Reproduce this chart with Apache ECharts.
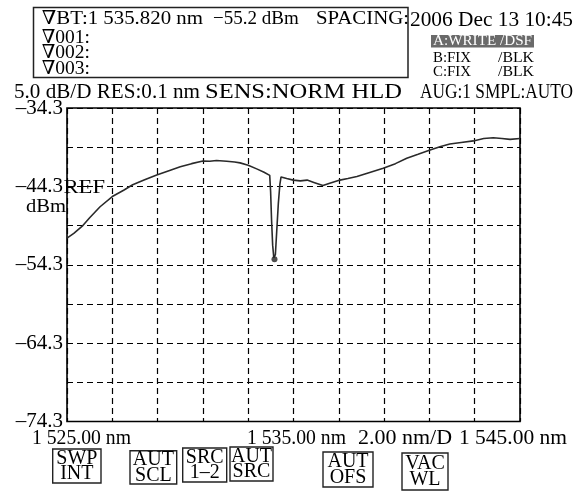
<!DOCTYPE html>
<html>
<head>
<meta charset="utf-8">
<script src="https://cdn.jsdelivr.net/npm/echarts@6/dist/echarts.min.js"></script>
<style>html,body{margin:0;padding:0;background:#fff}#c{width:582px;height:492px}</style>
</head>
<body>
<div id="c"></div>
<script>
// Wavelength (nm) and power (dBm)
const wavelengths = [1525.00,1525.30,1525.70,1526.00,1526.46,1527.00,1527.50,1527.90,1528.40,1528.96,1529.50,1530.00,1530.50,1531.00,1531.30,1531.60,1532.05,1532.40,1532.64,1533.00,1533.40,1533.70,1533.95,1533.99,1534.03,1534.08,1534.13,1534.16,1534.20,1534.26,1534.33,1534.40,1534.45,1534.70,1534.99,1535.30,1535.60,1535.90,1536.30,1536.60,1537.05,1537.40,1537.80,1538.40,1538.96,1539.50,1540.00,1540.50,1541.03,1541.50,1541.90,1542.40,1542.94,1543.40,1543.82,1544.20,1544.56,1545.00];
const powers = [-50.9,-50.3,-49.3,-48.3,-46.9,-45.6,-44.8,-44.1,-43.5,-42.85,-42.3,-41.8,-41.4,-41.06,-41.1,-41.0,-41.1,-41.2,-41.3,-41.6,-42.1,-42.5,-42.9,-45.0,-48.5,-51.8,-53.4,-53.6,-53.0,-50.0,-46.5,-44.0,-43.1,-43.3,-43.5,-43.6,-43.5,-43.8,-44.2,-43.9,-43.5,-43.3,-43.05,-42.5,-42.0,-41.4,-40.7,-40.2,-39.66,-39.2,-38.9,-38.7,-38.5,-38.2,-38.1,-38.2,-38.3,-38.2];
const yTickLabels = ["\u201374.3","\u201364.3","\u201354.3","\u201344.3","\u201334.3"];
const xTickLabels = ["1 525.00 nm","1 535.00 nm","2.00 nm/D","1 545.00 nm"];

const FONT = '"Liberation Serif","DejaVu Serif",serif';
const traceData = wavelengths.map((w,i)=>[w,powers[i]]);
let minI = 0; powers.forEach((p,i)=>{ if(p<powers[minI]) minI=i; });

const mctx = document.createElement('canvas').getContext('2d');
function measure(s,size){ mctx.font = size+'px '+FONT; return mctx.measureText(s).width; }

// text fitted horizontally between x1 and x2
function fit(x1,x2,y,s,size,fill){
  const w = measure(s,size);
  return {type:'text', x:x1, y:y, scaleX:(x2-x1)/w, z:10,
    style:{text:s, fontFamily:FONT, fontSize:size, fill:fill||'#000', align:'left', verticalAlign:'middle'}};
}
function txt(x,y,s,size,align){
  return {type:'text', x:x, y:y, z:10, style:{text:s, fontFamily:FONT, fontSize:size, fill:'#000', align:align||'left', verticalAlign:'middle'}};
}
function rect(x1,y1,x2,y2,opts){
  opts=opts||{};
  return {type:'rect', z:9, shape:{x:x1,y:y1,width:x2-x1,height:y2-y1}, style:{fill:opts.fill||'none', stroke:opts.stroke||'#222', lineWidth:opts.lw||1.5}};
}
function button(x1,y1,x2,y2,l1,l2){
  const cx=(x1+x2)/2, cy=(y1+y2)/2;
  return [rect(x1,y1,x2,y2,{lw:1.4}), txt(cx,cy-7.5,l1,20,'center'), txt(cx,cy+8,l2,20,'center')];
}

const graphics = [
  rect(33.5,7.5,408,77.5),
  fit(41.7,203,19.5,'\u2207BT:1 535.820 nm',19),
  txt(213,19.5,'\u221255.2 dBm',19),
  fit(316,409,19.5,'SPACING:',19),
  fit(41.7,90,38.5,'\u2207001:',19),
  fit(41.7,90,53.5,'\u2207002:',19),
  fit(41.7,90,69,'\u2207003:',19),
  fit(410,573,21,'2006 Dec 13 10:45',20),
  rect(431,35,534,47.5,{fill:'#6a6a6a',stroke:'none',lw:0}),
  fit(433,532,41.5,'A:WRITE /DSF',14.5,'#fff'),
  fit(433,471,58,'B:FIX',14.5),
  fit(498,534,58,'/BLK',14.5),
  fit(433,471,72,'C:FIX',14.5),
  fit(498,534,72,'/BLK',14.5),
  fit(14,200,92.5,'5.0 dB/D RES:0.1 nm',20),
  fit(205,402,92.5,'SENS:NORM HLD',20),
  fit(420,573,92.5,'AUG:1 SMPL:AUTO',20),
  fit(63.5,105,188,'REF',19),
  fit(26,66,207,'dBm',19),
  fit(32,131,438.5,xTickLabels[0],20),
  fit(247,346,438.5,xTickLabels[1],20),
  fit(358,452,438.5,xTickLabels[2],20),
  fit(459,567,438.5,xTickLabels[3],20)
].concat(
  button(52.7,449,101,483,'SWP','INT'),
  button(130,450.7,176.7,484,'AUT','SCL'),
  button(182.7,448,226.7,482,'SRC','1\u20132'),
  button(230,447,273,481,'AUT','SRC'),
  button(323,452,373,487,'AUT','OFS'),
  button(402,453,448,490,'VAC','WL')
);

const dash = {type:[6,4], color:'#000', width:1.2};
const chart = echarts.init(document.getElementById('c'), null, {renderer:'canvas'});
chart.setOption({
  animation:false,
  backgroundColor:'#fff',
  grid:{left:67, right:62, top:108, bottom:70.5, show:true, borderColor:'#000', borderWidth:1.6, backgroundColor:'transparent'},
  xAxis:[
    {type:'value', min:1525, max:1545, show:false},
    {type:'value', min:0, max:10, interval:1, axisLine:{show:false}, axisTick:{show:false}, axisLabel:{show:false}, splitLine:{show:true, lineStyle:dash}}
  ],
  yAxis:[
    {type:'value', min:-74.3, max:-34.3, show:false},
    {type:'value', min:0, max:8, interval:1, position:'left', axisLine:{show:false}, axisTick:{show:false},
     splitLine:{show:true, lineStyle:dash},
     axisLabel:{show:true, margin:4, fontFamily:FONT, fontSize:21, color:'#000', formatter:function(v){ return (v%2===0)? yTickLabels[v/2] : ''; }}}
  ],
  series:[
    {type:'line', xAxisIndex:0, yAxisIndex:0, data:traceData, showSymbol:false, lineStyle:{color:'#2a2a2a', width:1.6}, z:5},
    {type:'scatter', xAxisIndex:0, yAxisIndex:0, data:[traceData[minI]], symbolSize:6, itemStyle:{color:'#222'}, z:6}
  ],
  graphic:graphics
});
</script>
</body>
</html>
